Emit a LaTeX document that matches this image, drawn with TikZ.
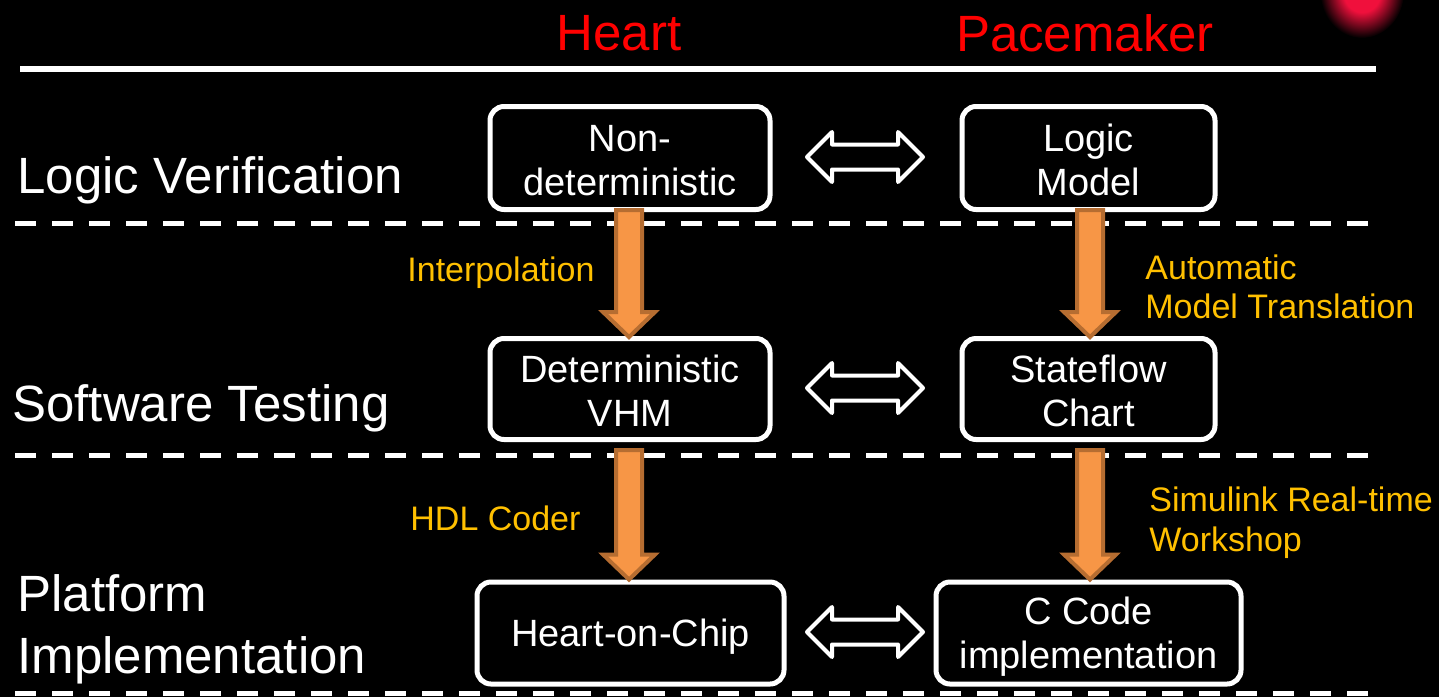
\documentclass[tikz,border=0pt]{standalone}
\usepackage{fontspec}
\setmainfont{Liberation Sans}
\usetikzlibrary{calc}

\definecolor{hdred}{HTML}{FF0000}
\definecolor{lblorange}{HTML}{FFC000}
\definecolor{arrfill}{HTML}{F79646}
\definecolor{arrline}{HTML}{B66D31}
\definecolor{glow}{HTML}{F0103C}

% soft red spot: solid core fading into the black background
\pgfdeclareradialshading{redspot}{\pgfpoint{0bp}{0bp}}{%
  color(0bp)=(glow); color(11bp)=(glow); color(25bp)=(black); color(50bp)=(black)}

\tikzset{
  heading/.style={text=hdred, font=\fontsize{25.5}{30}\selectfont, inner sep=0pt},
  rowlabel/.style={text=white, font=\fontsize{25.5}{31}\selectfont, align=left, anchor=west, inner sep=0pt},
  stage/.style={draw=white, line width=2.5pt, rounded corners=7pt, fill=black, inner sep=0pt},
  stagetext/.style={text=white, font=\fontsize{19}{22}\selectfont, align=center, inner sep=0pt},
  toollabel/.style={text=lblorange, font=\fontsize{17}{19.5}\selectfont, align=left, anchor=west, inner sep=0pt},
  separator/.style={white, line width=2.5pt, dash pattern=on 10.5pt off 8pt},
  fat/.style={fill=arrfill, draw=arrline, line width=2pt, line join=miter},
  pics/dblarrow/.style={code={
    \draw[white, line width=2pt, line join=round, fill=black]
      (-58,0) -- (-33,-25) -- (-33,-12.5) -- (33,-12.5) -- (33,-25) -- (58,0)
      -- (33,25) -- (33,12.5) -- (-33,12.5) -- (-33,25) -- cycle;
  }}
}

% thick orange block arrow pointing down from #1 to #2
\newcommand\fatdown[2]{%
  \filldraw[fat] let \p1=(#1), \p2=(#2) in
    (\x1-6.5pt,\y1) -- (\x1+6.5pt,\y1) -- (\x1+6.5pt,\y2+12.5pt) -- (\x1+13pt,\y2+12.5pt)
    -- (\x1,\y2) -- (\x1-13pt,\y2+12.5pt) -- (\x1-6.5pt,\y2+12.5pt) -- cycle;}

\begin{document}
\begin{tikzpicture}[x=0.5pt,y=-0.5pt]
  \fill[black] (0,0) rectangle (1439,697);
  \useasboundingbox (0,0) rectangle (1439,697);
  \clip (0,0) rectangle (1439,697);

  % glowing corner mark
  \shade[shading=redspot] (1362,-8) ellipse [x radius=21pt, y radius=23pt];

  % column headings and rule
  \node[heading] (hh) at (619,33) {Heart};
  \node[heading] (hp) at (1085,33) {Pacemaker};
  \draw[white, line width=3pt] (20,69) -- (1376,69);

  % row separators
  \draw[separator] (15,223) -- (1372,223);
  \draw[separator] (15,455) -- (1372,455);
  \draw[separator] (15,693) -- (1372,693);

  % row labels
  \node[rowlabel] (r1) at (17,180) {Logic Verification};
  \node[rowlabel] (r2) at (12,408) {Software Testing};
  \node[rowlabel] (r3) at (17,629) {Platform\\Implementation};

  % model boxes
  \node[stage, minimum width=140pt, minimum height=51.5pt] (nd) at (630,158) {};
  \node[stage, minimum width=126.5pt, minimum height=51.5pt] (lm) at (1088.5,158) {};
  \node[stage, minimum width=140pt, minimum height=50.5pt] (dv) at (630,389) {};
  \node[stage, minimum width=126.5pt, minimum height=50.5pt] (sc) at (1088.5,389) {};
  \node[stage, minimum width=153.5pt, minimum height=51pt] (hc) at (630.5,633) {};
  \node[stage, minimum width=152.5pt, minimum height=51pt] (cc) at (1088.5,633) {};

  % box captions
  \node[stagetext] (ndt) at ($(nd)+(0,3)$) {Non-\\deterministic};
  \node[stagetext] (lmt) at ($(lm)+(0,2)$) {Logic\\Model};
  \node[stagetext] (dvt) at ($(dv)+(0,2)$) {Deterministic\\VHM};
  \node[stagetext] (sct) at ($(sc)+(0,2)$) {Stateflow\\Chart};
  \node[stagetext] (hct) at ($(hc)+(0,4)$) {Heart-on-Chip};
  \node[stagetext] (cct) at ($(cc)+(0,4)$) {C Code\\implementation};

  % equivalence arrows
  \pic at ($(nd.east)!0.5!(lm.west)+(-1,-1)$) {dblarrow};
  \pic at ($(dv.east)!0.5!(sc.west)+(-1,-1)$) {dblarrow};
  \pic at ($(hc.east)!0.5!(cc.west)+(5,-1)$) {dblarrow};

  % refinement arrows
  \coordinate (a1s) at ($(nd.south)+(-1,-2)$);
  \coordinate (a1e) at ($(dv.north)+(-1,1)$);
  \coordinate (a2s) at ($(lm.south)+(1.5,-2)$);
  \coordinate (a2e) at ($(sc.north)+(1.5,1)$);
  \coordinate (a3s) at ($(dv.south)+(-1,8)$);
  \coordinate (a3e) at ($(hc.north)$);
  \coordinate (a4s) at ($(sc.south)+(1.5,8)$);
  \coordinate (a4e) at ($(cc.north)$);
  \fatdown{a1s}{a1e}
  \fatdown{a2s}{a2e}
  \fatdown{a3s}{a3e}
  \fatdown{a4s}{a4e}

  % tool labels
  \node[toollabel] (t1) at (407,273) {Interpolation};
  \node[toollabel] (t2) at (1145,287) {Automatic\\Model Translation};
  \node[toollabel] (t3) at (410,518) {HDL Coder};
  \node[toollabel, font=\fontsize{17}{20}\selectfont] (t4) at (1149,523) {Simulink Real-time\\Workshop};
\end{tikzpicture}
\end{document}
